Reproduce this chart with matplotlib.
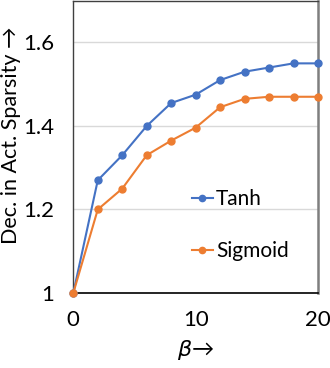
import matplotlib
matplotlib.use("Agg")
import matplotlib.pyplot as plt

beta = [0, 2, 4, 6, 8, 10, 12, 14, 16, 18, 20]
tanh_vals = [1.0, 1.27, 1.33, 1.40, 1.455, 1.475, 1.51, 1.53, 1.54, 1.55, 1.55]
sigmoid_vals = [1.0, 1.20, 1.25, 1.33, 1.365, 1.396, 1.445, 1.465, 1.47, 1.47, 1.47]
xticks = [0, 10, 20]
yticks = [1.0, 1.2, 1.4, 1.6]
ytick_labels = ["1", "1.2", "1.4", "1.6"]

plt.rcParams['font.family'] = ['Lato', 'DejaVu Sans']

fig = plt.figure(figsize=(3.3, 3.68), dpi=100)
ax = fig.add_axes([73.3/330, 1 - 293/368, (318 - 73.3)/330, 293/368 - 0.002])

ax.plot(beta, tanh_vals, color='#4472C4', lw=1.5, marker='o', ms=5, label='Tanh', clip_on=False, zorder=3)
ax.plot(beta, sigmoid_vals, color='#ED7D31', lw=1.5, marker='o', ms=5, label='Sigmoid', clip_on=False, zorder=4)

ax.set_xlim(0, 20)
ax.set_ylim(1.0, 1.7)
ax.set_xticks(xticks)
ax.set_yticks(yticks)
ax.set_yticklabels(ytick_labels)
ax.tick_params(axis='both', length=0, labelsize=16)
ax.tick_params(axis='y', pad=14)
ax.tick_params(axis='x', pad=12)

ax.grid(axis='y', color='#D9D9D9', lw=1)
ax.set_axisbelow(True)

ax.spines['left'].set_color('#404040')
ax.spines['left'].set_linewidth(1.0)
ax.spines['bottom'].set_color('#000000')
ax.spines['bottom'].set_linewidth(1.2)
ax.spines['top'].set_color('#404040')
ax.spines['top'].set_linewidth(1.0)
ax.spines['right'].set_color('#7F7F7F')
ax.spines['right'].set_linewidth(1.8)

ax.set_xlabel(r'$\beta$→', fontsize=16, labelpad=6)
ax.set_ylabel('Dec. in Act. Sparsity →', fontsize=15.5)
ax.yaxis.set_label_coords(-0.215, 0.54)

leg = ax.legend(loc='center left', bbox_to_anchor=(0.485, 0.232), frameon=False,
                fontsize=15, handlelength=1.0, handletextpad=0.15, labelspacing=1.55,
                borderpad=0, borderaxespad=0, markerscale=0.9)

fig.savefig('out.png', dpi=100)
